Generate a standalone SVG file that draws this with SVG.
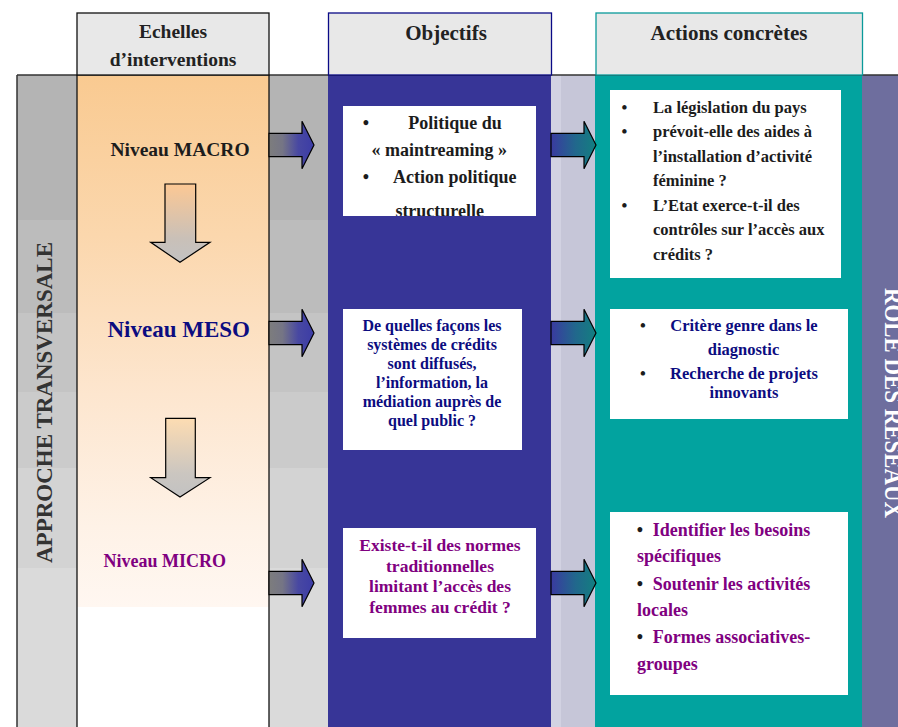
<svg xmlns="http://www.w3.org/2000/svg" width="898" height="727" viewBox="0 0 898 727">
<style>
text{font-family:"Liberation Serif","Times New Roman",serif;font-weight:bold}
.hd{font-size:21px;fill:#222;text-anchor:middle}
.blk{fill:#1c1c1c}
.navy{fill:#0c0c80}
.purp{fill:#800080}
.mid{text-anchor:middle}
.arr{stroke:#000;stroke-width:1.2;stroke-linejoin:miter}
.box{fill:#fff}
</style>
<defs>
<linearGradient id="peach" x1="0" y1="75" x2="0" y2="607" gradientUnits="userSpaceOnUse">
<stop offset="0" stop-color="#f9ca91"/>
<stop offset="0.3" stop-color="#fbd7ad"/>
<stop offset="0.6" stop-color="#fde6cf"/>
<stop offset="0.85" stop-color="#fef2e7"/>
<stop offset="1" stop-color="#fff7f1"/>
</linearGradient>
<linearGradient id="g2b" x1="0" y1="0" x2="1" y2="0">
<stop offset="0" stop-color="#7d7d7d"/>
<stop offset="0.3" stop-color="#757585"/>
<stop offset="0.65" stop-color="#4848a2"/>
<stop offset="1" stop-color="#3c3ca6"/>
</linearGradient>
<linearGradient id="b2t" x1="0" y1="0" x2="1" y2="0">
<stop offset="0" stop-color="#3a3aa0"/>
<stop offset="0.55" stop-color="#21688c"/>
<stop offset="1" stop-color="#137f80"/>
</linearGradient>
<linearGradient id="down1" x1="0" y1="0" x2="0" y2="1">
<stop offset="0" stop-color="#fcc894"/>
<stop offset="0.7" stop-color="#c9c0b8"/>
<stop offset="1" stop-color="#c2c2c2"/>
</linearGradient>
<linearGradient id="down2" x1="0" y1="0" x2="0" y2="1">
<stop offset="0" stop-color="#fddcb2"/>
<stop offset="0.7" stop-color="#cbc6c0"/>
<stop offset="1" stop-color="#c2c2c2"/>
</linearGradient>
<path id="rarrow" d="M0,-11.7 H33 V-23.8 L45,0 L33,23.8 V11.7 H0 Z"/>
<clipPath id="clipObj1"><rect x="343" y="106" width="193" height="110"/></clipPath>
</defs>

<!-- background columns -->
<g id="background">
<rect x="17" y="75" width="311" height="145" fill="#b4b4b4"/>
<rect x="17" y="220" width="311" height="93" fill="#bcbcbc"/>
<rect x="17" y="313" width="311" height="79" fill="#c4c4c4"/>
<rect x="17" y="392" width="311" height="76" fill="#cbcbcb"/>
<rect x="17" y="468" width="311" height="100" fill="#d3d3d3"/>
<rect x="17" y="568" width="311" height="159" fill="#dadada"/>
<rect x="77" y="75" width="192" height="532" fill="url(#peach)"/>
<rect x="77" y="607" width="192" height="120" fill="#fff"/>
<rect x="328" y="75" width="223" height="652" fill="#373597"/>
<rect x="551" y="75" width="10" height="652" fill="#d2d2e2"/>
<rect x="561" y="75" width="34" height="652" fill="#c6c6d8"/>
<rect x="595" y="75" width="267" height="652" fill="#02a39f"/>
<rect x="862" y="75" width="36" height="652" fill="#6e6e9e"/>
<line x1="17" y1="75" x2="898" y2="75" stroke="#333" stroke-width="1.5"/>
<line x1="17" y1="75" x2="17" y2="727" stroke="#333" stroke-width="1.5"/>
<line x1="77" y1="75" x2="77" y2="727" stroke="#111" stroke-width="1.3"/>
<line x1="269" y1="75" x2="269" y2="727" stroke="#111" stroke-width="1.3"/>
</g>

<!-- headers -->
<g id="header-echelles">
<rect x="77" y="13" width="192" height="62" fill="#e8e8e8" stroke="#111" stroke-width="1.3"/>
<text class="hd" x="173" y="38" style="font-size:19.5px">Echelles</text>
<text class="hd" x="173" y="66" style="font-size:19.5px">d’interventions</text>
</g>
<g id="header-objectifs">
<rect x="328.5" y="13" width="223" height="62" fill="#e8e8e8" stroke="#0a0a86" stroke-width="1.3"/>
<text class="hd" x="446" y="40">Objectifs</text>
</g>
<g id="header-actions">
<rect x="596" y="13" width="266.5" height="62" fill="#e8e8e8" stroke="#0a9a9a" stroke-width="1.3"/>
<text class="hd" x="729" y="40">Actions concrètes</text>
</g>

<!-- side labels -->
<g id="approche">
<text transform="translate(52,402.5) rotate(-90)" class="mid" style="font-size:23px;fill:#333" textLength="321" lengthAdjust="spacingAndGlyphs">APPROCHE TRANSVERSALE</text>
</g>
<g id="role-reseaux">
<text transform="translate(885,403) rotate(90)" class="mid" style="font-size:25px;fill:#fff" textLength="230" lengthAdjust="spacingAndGlyphs">ROLE DES RESEAUX</text>
</g>

<!-- levels -->
<g id="niveau-macro">
<text x="180" y="155.7" class="mid blk" style="font-size:19.5px">Niveau MACRO</text>
</g>
<g id="niveau-meso">
<text x="178.7" y="337.3" class="mid navy" style="font-size:23px">Niveau MESO</text>
</g>
<g id="niveau-micro">
<text x="164.7" y="567.3" class="mid purp" style="font-size:18px">Niveau MICRO</text>
</g>

<!-- objectives -->
<g id="objectif-1">
<rect class="box" x="343" y="106" width="193" height="110"/>
<g clip-path="url(#clipObj1)" style="font-size:18px">
<text x="366" y="129" class="mid blk">•</text>
<text x="455" y="129" class="mid blk">Politique du</text>
<text x="439.3" y="155.7" class="mid blk">« maintreaming »</text>
<text x="366" y="182.7" class="mid blk">•</text>
<text x="454.7" y="182.7" class="mid blk">Action politique</text>
<text x="439.7" y="217" class="mid blk">structurelle</text>
</g>
</g>
<g id="objectif-2">
<rect class="box" x="343" y="309" width="179" height="141"/>
<g class="navy" style="font-size:16px;text-anchor:middle">
<text x="432" y="331">De quelles façons les</text>
<text x="432" y="350">systèmes de crédits</text>
<text x="432" y="369">sont diffusés,</text>
<text x="432" y="388">l’information, la</text>
<text x="432" y="407">médiation auprès de</text>
<text x="432" y="426">quel public ?</text>
</g>
</g>
<g id="objectif-3">
<rect class="box" x="343" y="528" width="193" height="110"/>
<g class="purp" style="font-size:17.5px;text-anchor:middle">
<text x="440" y="551">Existe-t-il des normes</text>
<text x="440" y="571.5">traditionnelles</text>
<text x="440" y="592">limitant l’accès des</text>
<text x="440" y="612.5">femmes au crédit ?</text>
</g>
</g>

<!-- actions -->
<g id="action-1">
<rect class="box" x="610" y="90" width="231" height="188"/>
<g style="font-size:16.5px">
<text x="624.5" y="112.7" class="mid blk">•</text>
<text x="653" y="112.7" class="blk">La législation du pays</text>
<text x="624.5" y="137.3" class="mid blk">•</text>
<text x="653" y="137.3" class="blk">prévoit-elle des aides à</text>
<text x="653" y="161.7" class="blk">l’installation d’activité</text>
<text x="653" y="186" class="blk">féminine ?</text>
<text x="624.5" y="211" class="mid blk">•</text>
<text x="653" y="211" class="blk">L’Etat exerce-t-il des</text>
<text x="653" y="235.3" class="blk">contrôles sur l’accès aux</text>
<text x="653" y="259.5" class="blk">crédits ?</text>
</g>
</g>
<g id="action-2">
<rect class="box" x="610" y="309" width="238" height="110"/>
<g style="font-size:16.5px">
<text x="643" y="331" class="mid blk">•</text>
<text x="744" y="331" class="mid navy">Critère genre dans le</text>
<text x="743.5" y="355" class="mid navy">diagnostic</text>
<text x="643" y="379.3" class="mid blk">•</text>
<text x="744" y="379.3" class="mid navy">Recherche de projets</text>
<text x="744" y="397.7" class="mid navy">innovants</text>
</g>
</g>
<g id="action-3">
<rect class="box" x="610" y="512" width="238" height="183"/>
<g style="font-size:18px">
<text x="640" y="536" class="mid blk">•</text>
<text x="652.7" y="536" class="purp">Identifier les besoins</text>
<text x="637" y="561.7" class="purp">spécifiques</text>
<text x="640" y="590" class="mid blk">•</text>
<text x="652.7" y="590" class="purp">Soutenir les activités</text>
<text x="637" y="616" class="purp">locales</text>
<text x="640" y="643.3" class="mid blk">•</text>
<text x="652.7" y="643.3" class="purp">Formes associatives-</text>
<text x="637" y="670" class="purp">groupes</text>
</g>
</g>

<!-- connectors -->
<g id="connectors">
<use href="#rarrow" class="arr" fill="url(#g2b)" transform="translate(269,145)"/>
<use href="#rarrow" class="arr" fill="url(#g2b)" transform="translate(269,333)"/>
<use href="#rarrow" class="arr" fill="url(#g2b)" transform="translate(269,583)"/>
<use href="#rarrow" class="arr" fill="url(#b2t)" transform="translate(551,145)"/>
<use href="#rarrow" class="arr" fill="url(#b2t)" transform="translate(551,333)"/>
<use href="#rarrow" class="arr" fill="url(#b2t)" transform="translate(551,583)"/>
<path class="arr" fill="url(#down1)" d="M165,184 H195.7 V242.3 H210 L180,262.3 L150.7,242.3 H165 Z"/>
<path class="arr" fill="url(#down2)" d="M165.7,418.3 H195.3 V477.7 H210 L180,497 L150.7,477.7 H165.7 Z"/>
</g>
</svg>
